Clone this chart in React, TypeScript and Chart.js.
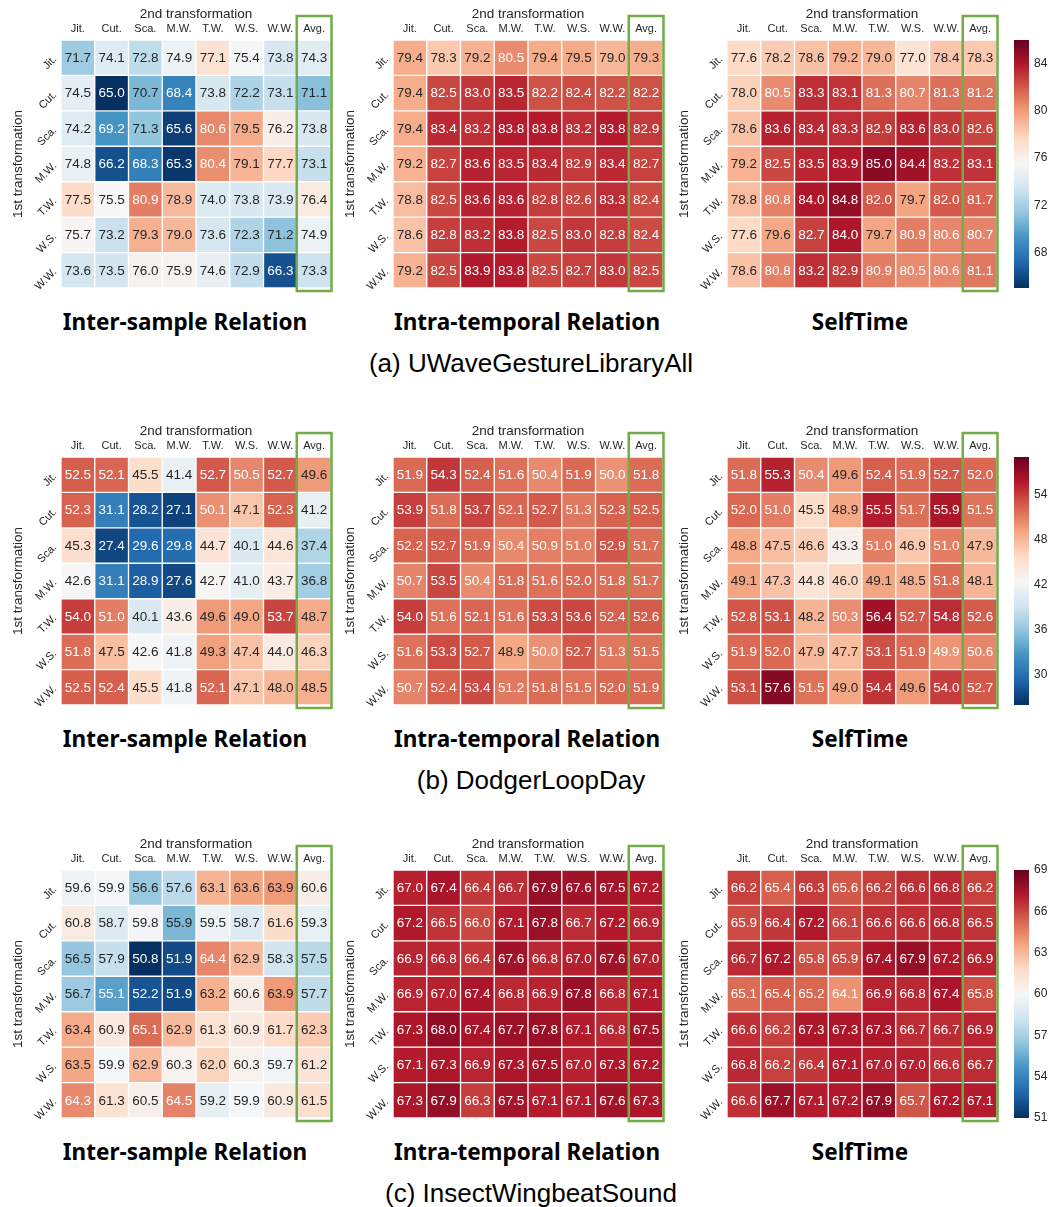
import React, { useEffect, useRef } from 'react';
import { Chart, registerables } from 'chart.js';

Chart.register(...registerables);

// ---------------- data ----------------
const colLabels = ['Jit.', 'Cut.', 'Sca.', 'M.W.', 'T.W.', 'W.S.', 'W.W.', 'Avg.'];
const rowLabels = ['Jit.', 'Cut.', 'Sca.', 'M.W.', 'T.W.', 'W.S.', 'W.W.'];
const methodTitles = ['Inter-sample Relation', 'Intra-temporal Relation', 'SelfTime'];
const datasetCaptions = ['(a) UWaveGestureLibraryAll', '(b) DodgerLoopDay', '(c) InsectWingbeatSound'];
const xAxisTitle = '2nd transformation';
const yAxisTitle = '1st transformation';

const uwaveInter = [
  [71.7, 74.1, 72.8, 74.9, 77.1, 75.4, 73.8, 74.3],
  [74.5, 65.0, 70.7, 68.4, 73.8, 72.2, 73.1, 71.1],
  [74.2, 69.2, 71.3, 65.6, 80.6, 79.5, 76.2, 73.8],
  [74.8, 66.2, 68.3, 65.3, 80.4, 79.1, 77.7, 73.1],
  [77.5, 75.5, 80.9, 78.9, 74.0, 73.8, 73.9, 76.4],
  [75.7, 73.2, 79.3, 79.0, 73.6, 72.3, 71.2, 74.9],
  [73.6, 73.5, 76.0, 75.9, 74.6, 72.9, 66.3, 73.3],
];
const uwaveIntra = [
  [79.4, 78.3, 79.2, 80.5, 79.4, 79.5, 79.0, 79.3],
  [79.4, 82.5, 83.0, 83.5, 82.2, 82.4, 82.2, 82.2],
  [79.4, 83.4, 83.2, 83.8, 83.8, 83.2, 83.8, 82.9],
  [79.2, 82.7, 83.6, 83.5, 83.4, 82.9, 83.4, 82.7],
  [78.8, 82.5, 83.6, 83.6, 82.8, 82.6, 83.3, 82.4],
  [78.6, 82.8, 83.2, 83.8, 82.5, 83.0, 82.8, 82.4],
  [79.2, 82.5, 83.9, 83.8, 82.5, 82.7, 83.0, 82.5],
];
const uwaveSelf = [
  [77.6, 78.2, 78.6, 79.2, 79.0, 77.0, 78.4, 78.3],
  [78.0, 80.5, 83.3, 83.1, 81.3, 80.7, 81.3, 81.2],
  [78.6, 83.6, 83.4, 83.3, 82.9, 83.6, 83.0, 82.6],
  [79.2, 82.5, 83.5, 83.9, 85.0, 84.4, 83.2, 83.1],
  [78.8, 80.8, 84.0, 84.8, 82.0, 79.7, 82.0, 81.7],
  [77.6, 79.6, 82.7, 84.0, 79.7, 80.9, 80.6, 80.7],
  [78.6, 80.8, 83.2, 82.9, 80.9, 80.5, 80.6, 81.1],
];

const dodgerInter = [
  [52.5, 52.1, 45.5, 41.4, 52.7, 50.5, 52.7, 49.6],
  [52.3, 31.1, 28.2, 27.1, 50.1, 47.1, 52.3, 41.2],
  [45.3, 27.4, 29.6, 29.8, 44.7, 40.1, 44.6, 37.4],
  [42.6, 31.1, 28.9, 27.6, 42.7, 41.0, 43.7, 36.8],
  [54.0, 51.0, 40.1, 43.6, 49.6, 49.0, 53.7, 48.7],
  [51.8, 47.5, 42.6, 41.8, 49.3, 47.4, 44.0, 46.3],
  [52.5, 52.4, 45.5, 41.8, 52.1, 47.1, 48.0, 48.5],
];
const dodgerIntra = [
  [51.9, 54.3, 52.4, 51.6, 50.4, 51.9, 50.0, 51.8],
  [53.9, 51.8, 53.7, 52.1, 52.7, 51.3, 52.3, 52.5],
  [52.2, 52.7, 51.9, 50.4, 50.9, 51.0, 52.9, 51.7],
  [50.7, 53.5, 50.4, 51.8, 51.6, 52.0, 51.8, 51.7],
  [54.0, 51.6, 52.1, 51.6, 53.3, 53.6, 52.4, 52.6],
  [51.6, 53.3, 52.7, 48.9, 50.0, 52.7, 51.3, 51.5],
  [50.7, 52.4, 53.4, 51.2, 51.8, 51.5, 52.0, 51.9],
];
const dodgerSelf = [
  [51.8, 55.3, 50.4, 49.6, 52.4, 51.9, 52.7, 52.0],
  [52.0, 51.0, 45.5, 48.9, 55.5, 51.7, 55.9, 51.5],
  [48.8, 47.5, 46.6, 43.3, 51.0, 46.9, 51.0, 47.9],
  [49.1, 47.3, 44.8, 46.0, 49.1, 48.5, 51.8, 48.1],
  [52.8, 53.1, 48.2, 50.3, 56.4, 52.7, 54.8, 52.6],
  [51.9, 52.0, 47.9, 47.7, 53.1, 51.9, 49.9, 50.6],
  [53.1, 57.6, 51.5, 49.0, 54.4, 49.6, 54.0, 52.7],
];

const insectInter = [
  [59.6, 59.9, 56.6, 57.6, 63.1, 63.6, 63.9, 60.6],
  [60.8, 58.7, 59.8, 55.9, 59.5, 58.7, 61.6, 59.3],
  [56.5, 57.9, 50.8, 51.9, 64.4, 62.9, 58.3, 57.5],
  [56.7, 55.1, 52.2, 51.9, 63.2, 60.6, 63.9, 57.7],
  [63.4, 60.9, 65.1, 62.9, 61.3, 60.9, 61.7, 62.3],
  [63.5, 59.9, 62.9, 60.3, 62.0, 60.3, 59.7, 61.2],
  [64.3, 61.3, 60.5, 64.5, 59.2, 59.9, 60.9, 61.5],
];
const insectIntra = [
  [67.0, 67.4, 66.4, 66.7, 67.9, 67.6, 67.5, 67.2],
  [67.2, 66.5, 66.0, 67.1, 67.8, 66.7, 67.2, 66.9],
  [66.9, 66.8, 66.4, 67.6, 66.8, 67.0, 67.6, 67.0],
  [66.9, 67.0, 67.4, 66.8, 66.9, 67.8, 66.8, 67.1],
  [67.3, 68.0, 67.4, 67.7, 67.8, 67.1, 66.8, 67.5],
  [67.1, 67.3, 66.9, 67.3, 67.5, 67.0, 67.3, 67.2],
  [67.3, 67.9, 66.3, 67.5, 67.1, 67.1, 67.6, 67.3],
];
const insectSelf = [
  [66.2, 65.4, 66.3, 65.6, 66.2, 66.6, 66.8, 66.2],
  [65.9, 66.4, 67.2, 66.1, 66.6, 66.6, 66.8, 66.5],
  [66.7, 67.2, 65.8, 65.9, 67.4, 67.9, 67.2, 66.9],
  [65.1, 65.4, 65.2, 64.1, 66.9, 66.8, 67.4, 65.8],
  [66.6, 66.2, 67.3, 67.3, 67.3, 66.7, 66.7, 66.9],
  [66.8, 66.2, 66.4, 67.1, 67.0, 67.0, 66.6, 66.7],
  [66.6, 67.7, 67.1, 67.2, 67.9, 65.7, 67.2, 67.1],
];

// colour-scale limits (vmin, vmax) for each dataset row
const uwaveRange = [65, 86];
const dodgerRange = [26, 59];
const insectRange = [51, 69];

const uwaveTicks = [68, 72, 76, 80, 84];
const dodgerTicks = [30, 36, 42, 48, 54];
const insectTicks = [51, 54, 57, 60, 63, 66, 69];

// ---------------- styling / layout ----------------
const FONT = '"Liberation Sans", Arial, Helvetica, sans-serif';
const TEXT_DARK = '#262626';
const BOX_GREEN = '#70ad47';
const RDBU_R = ['#053061', '#2166ac', '#4393c3', '#92c5de', '#d1e5f0', '#f7f7f7', '#fddbc7', '#f4a582', '#d6604d', '#b2182b', '#67001f'];

const GRID_W = 270;
const GRID_H = 248;
const AXIS_LEFT = 60;
const AXIS_TOP = 40;
const PAD_R = 6;
const PAD_B = 8;
const GRID_LEFTS = [61, 393, 727];
const GRID_TOPS = [40, 457, 870];
const TITLE_CX = [185, 527, 860];
const CAPTION_CX = 531;
const CB_LEFT = 1014;
const CB_W = 15;
const CB_AXIS = 21;
const CB_PAD = 10;

Chart.defaults.font.family = FONT;

function hexToRgb(h: string): number[] {
  const n = parseInt(h.slice(1), 16);
  return [(n >> 16) & 255, (n >> 8) & 255, n & 255];
}
const STOPS = RDBU_R.map(hexToRgb);

function cmap(v: number, vmin: number, vmax: number): number[] {
  let t = (v - vmin) / (vmax - vmin);
  t = Math.max(0, Math.min(1, t));
  const p = t * 10;
  const i = Math.min(9, Math.floor(p));
  const f = p - i;
  const a = STOPS[i];
  const b = STOPS[i + 1];
  return a.map((x, k) => Math.round(x + (b[k] - x) * f));
}
function rgbStr(c: number[]) {
  return `rgb(${c[0]},${c[1]},${c[2]})`;
}
function luminance(c: number[]) {
  const lin = c.map((x) => {
    const s = x / 255;
    return s <= 0.03928 ? s / 12.92 : Math.pow((s + 0.055) / 1.055, 2.4);
  });
  return 0.2126 * lin[0] + 0.7152 * lin[1] + 0.0722 * lin[2];
}

function HeatmapPanel({ values, range, left, top }: { values: number[][]; range: number[]; left: number; top: number }) {
  const ref = useRef<HTMLCanvasElement>(null);
  const W = AXIS_LEFT + GRID_W + PAD_R;
  const H = AXIS_TOP + GRID_H + PAD_B;
  useEffect(() => {
    const [vmin, vmax] = range;
    const cellValues = {
      id: 'cellValues',
      afterDatasetsDraw(chart: any) {
        const ctx = chart.ctx;
        ctx.save();
        ctx.font = `13.5px ${FONT}`;
        ctx.textAlign = 'center';
        ctx.textBaseline = 'middle';
        chart.data.datasets.forEach((_: any, r: number) => {
          const meta = chart.getDatasetMeta(r);
          meta.data.forEach((bar: any, c: number) => {
            const p = bar.getProps(['x', 'y', 'base'], true);
            const v = values[r][c];
            const col = cmap(v, vmin, vmax);
            ctx.fillStyle = luminance(col) > 0.408 ? TEXT_DARK : '#ffffff';
            ctx.fillText(v.toFixed(1), p.x, (p.y + p.base) / 2 + 0.5);
          });
        });
        ctx.restore();
      },
    };
    const avgBox = {
      id: 'avgBox',
      afterDraw(chart: any) {
        const ctx = chart.ctx;
        const xs = chart.scales.x;
        const area = chart.chartArea;
        const cw = (area.right - area.left) / colLabels.length;
        const cx = xs.getPixelForValue(colLabels.length - 1);
        ctx.save();
        ctx.strokeStyle = BOX_GREEN;
        ctx.lineWidth = 2.5;
        ctx.strokeRect(cx - cw / 2 - 0.5, area.top - 24, cw + 1, area.bottom - area.top + 27);
        ctx.restore();
      },
    };
    const chart = new Chart(ref.current as HTMLCanvasElement, {
      type: 'bar',
      data: {
        labels: colLabels,
        datasets: rowLabels.map((_, r) => ({
          data: colLabels.map(() => [r, r + 1]),
          backgroundColor: (ctx: any) => rgbStr(cmap(values[r][ctx.dataIndex], vmin, vmax)),
          borderColor: '#ffffff',
          borderWidth: 1,
          borderSkipped: false,
          grouped: false,
          barPercentage: 1,
          categoryPercentage: 1,
        })),
      } as any,
      options: {
        animation: false,
        responsive: false,
        events: [],
        layout: { padding: { left: 0, top: 0, right: PAD_R, bottom: PAD_B } },
        plugins: { legend: { display: false }, tooltip: { enabled: false }, title: { display: false } },
        scales: {
          x: {
            type: 'category',
            position: 'top',
            offset: true,
            grid: { display: false, drawTicks: false },
            border: { display: false },
            ticks: { font: { family: FONT, size: 11 }, color: TEXT_DARK, padding: 4, maxRotation: 0, minRotation: 0, autoSkip: false },
            title: { display: true, text: xAxisTitle, font: { family: FONT, size: 13.5 }, color: TEXT_DARK, padding: { top: 6, bottom: 0 } },
            afterFit: (s: any) => {
              s.height = AXIS_TOP;
              s.paddingLeft = 0;
              s.paddingRight = 0;
            },
          },
          y: {
            type: 'linear',
            min: 0,
            max: rowLabels.length,
            reverse: true,
            grid: { display: false, drawTicks: false },
            border: { display: false },
            ticks: {
              font: { family: FONT, size: 11 },
              color: TEXT_DARK,
              padding: 6,
              minRotation: 45,
              maxRotation: 45,
              autoSkip: false,
              callback: (_v: any, i: number) => rowLabels[i],
            },
            afterBuildTicks: (axis: any) => {
              axis.ticks = rowLabels.map((_, i) => ({ value: i + 0.5 }));
            },
            title: { display: true, text: yAxisTitle, font: { family: FONT, size: 13.5 }, color: TEXT_DARK, padding: { top: 9, bottom: 0 } },
            afterFit: (s: any) => {
              s.width = AXIS_LEFT;
              s.paddingTop = 0;
              s.paddingBottom = 0;
            },
          },
        },
      } as any,
      plugins: [cellValues, avgBox],
    });
    return () => chart.destroy();
  }, [values, range]);
  return (
    <canvas
      ref={ref}
      width={W}
      height={H}
      style={{ position: 'absolute', left: left - AXIS_LEFT, top: top - AXIS_TOP, width: W, height: H }}
    />
  );
}

function Colorbar({ range, ticks, top }: { range: number[]; ticks: number[]; top: number }) {
  const ref = useRef<HTMLCanvasElement>(null);
  const W = CB_W + CB_AXIS;
  const H = GRID_H + 2 * CB_PAD;
  useEffect(() => {
    const [vmin, vmax] = range;
    const chart = new Chart(ref.current as HTMLCanvasElement, {
      type: 'bar',
      data: {
        labels: ['cb'],
        datasets: [
          {
            data: [[vmin, vmax]],
            backgroundColor: (ctx: any) => {
              const { chartArea, ctx: c } = ctx.chart;
              if (!chartArea) return 'rgba(0,0,0,0)';
              const g = c.createLinearGradient(0, chartArea.bottom, 0, chartArea.top);
              RDBU_R.forEach((col, i) => g.addColorStop(i / (RDBU_R.length - 1), col));
              return g;
            },
            borderWidth: 0,
            barPercentage: 1,
            categoryPercentage: 1,
          },
        ],
      } as any,
      options: {
        animation: false,
        responsive: false,
        events: [],
        layout: { padding: { left: 0, right: 0, top: CB_PAD, bottom: CB_PAD } },
        plugins: { legend: { display: false }, tooltip: { enabled: false } },
        scales: {
          x: { display: false, offset: true },
          y: {
            type: 'linear',
            position: 'right',
            min: vmin,
            max: vmax,
            grid: { display: false, drawTicks: false },
            border: { display: false },
            ticks: { font: { family: FONT, size: 12 }, color: TEXT_DARK, padding: 5 },
            afterBuildTicks: (axis: any) => {
              axis.ticks = ticks.map((v) => ({ value: v }));
            },
            afterFit: (s: any) => {
              s.width = CB_AXIS;
              s.paddingTop = 0;
              s.paddingBottom = 0;
            },
          },
        },
      } as any,
    });
    return () => chart.destroy();
  }, [range, ticks]);
  return (
    <canvas
      ref={ref}
      width={W}
      height={H}
      style={{ position: 'absolute', left: CB_LEFT, top: top - CB_PAD, width: W, height: H }}
    />
  );
}

const panelRows = [
  { maps: [uwaveInter, uwaveIntra, uwaveSelf], range: uwaveRange, ticks: uwaveTicks },
  { maps: [dodgerInter, dodgerIntra, dodgerSelf], range: dodgerRange, ticks: dodgerTicks },
  { maps: [insectInter, insectIntra, insectSelf], range: insectRange, ticks: insectTicks },
];

export default function App() {
  return (
    <div
      style={{
        position: 'absolute',
        left: 0,
        top: 0,
        width: 1050,
        height: 1207,
        background: '#ffffff',
        overflow: 'hidden',
      }}
    >
      {panelRows.map((row, ri) => (
        <React.Fragment key={ri}>
          {row.maps.map((vals, ci) => (
            <HeatmapPanel key={ci} values={vals} range={row.range} left={GRID_LEFTS[ci]} top={GRID_TOPS[ri]} />
          ))}
          <Colorbar range={row.range} ticks={row.ticks} top={GRID_TOPS[ri]} />
          {methodTitles.map((t, ci) => (
            <div
              key={'t' + ci}
              style={{
                position: 'absolute',
                left: TITLE_CX[ci] - 200,
                width: 400,
                top: GRID_TOPS[ri] + 282 - 16,
                height: 32,
                lineHeight: '32px',
                textAlign: 'center',
                fontFamily: '"Noto Sans", sans-serif',
                fontWeight: 700,
                fontSize: 22.5,
                color: '#000',
                whiteSpace: 'nowrap',
              }}
            >
              {t}
            </div>
          ))}
          <div
            style={{
              position: 'absolute',
              left: CAPTION_CX - 300,
              width: 600,
              top: GRID_TOPS[ri] + 323 - 16,
              height: 32,
              lineHeight: '32px',
              textAlign: 'center',
              fontFamily: FONT,
              fontSize: 26,
              color: '#000',
              whiteSpace: 'nowrap',
            }}
          >
            {datasetCaptions[ri]}
          </div>
        </React.Fragment>
      ))}
    </div>
  );
}
